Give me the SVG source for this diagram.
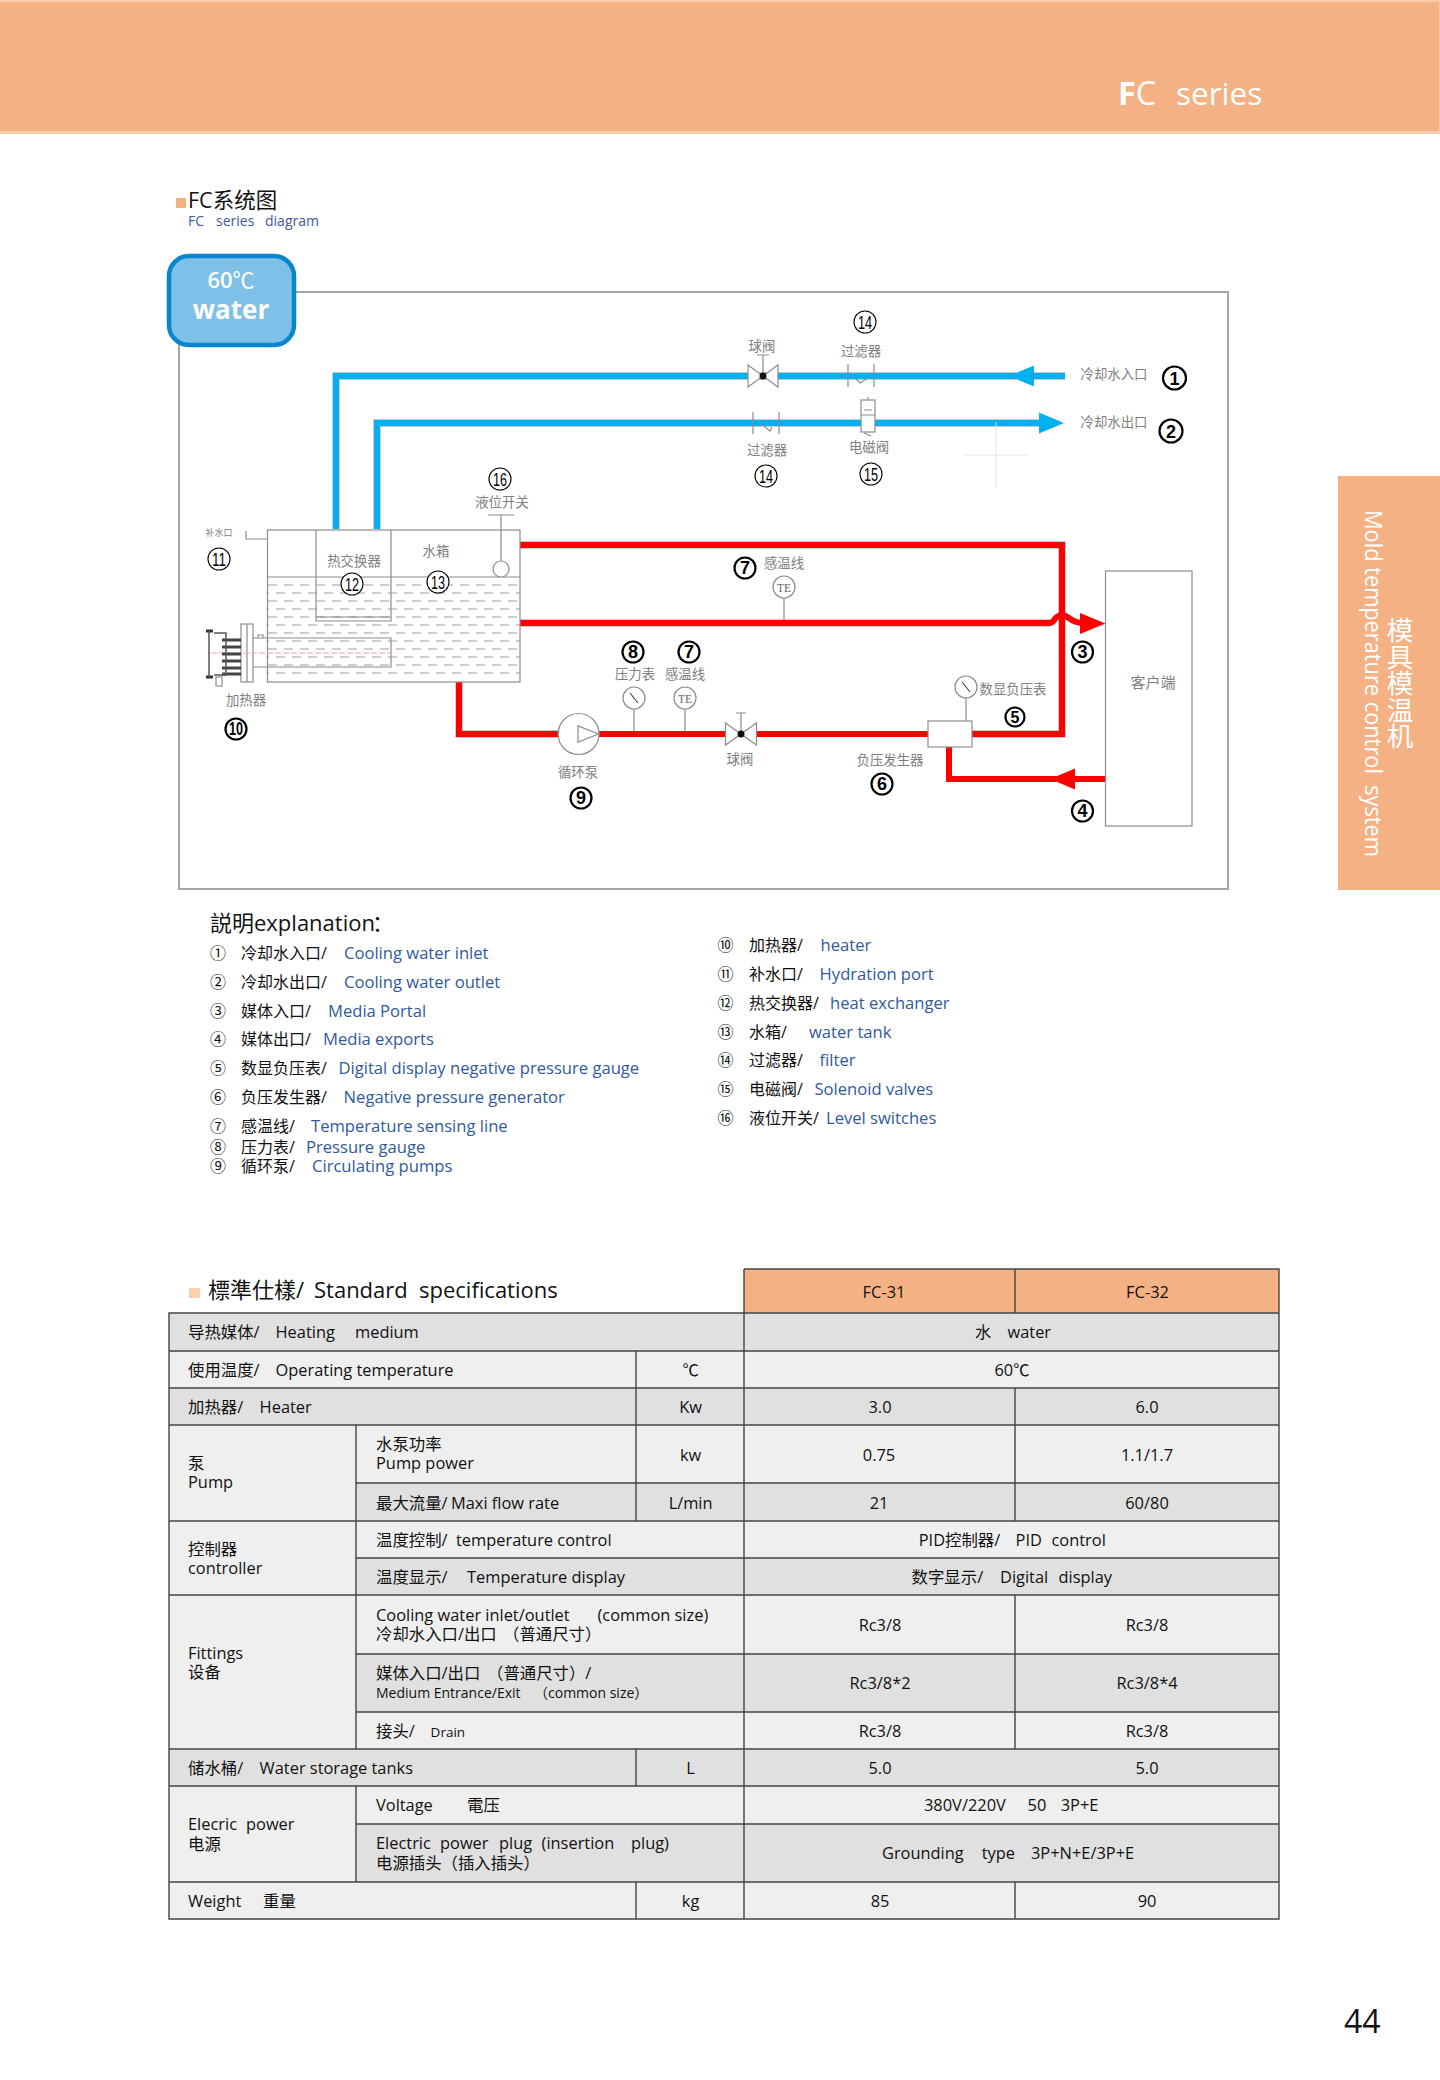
<svg xmlns="http://www.w3.org/2000/svg" width="1440" height="2080" viewBox="0 0 1440 2080">
<style>
text{font-family:"Open Sans","Noto Sans CJK SC",sans-serif;fill:#111;white-space:pre}
.w{fill:#fff}
.l{font-size:13.4px;fill:#808080;text-anchor:middle;font-family:"Noto Sans CJK SC",sans-serif}
.n{font-family:"Liberation Sans",sans-serif;font-size:18px;text-anchor:middle;fill:#000}
.b circle{fill:#fff;stroke:#000;stroke-width:2.2}
.b text{font-weight:bold}
.d circle{fill:#fff;stroke:#000;stroke-width:1.1}
.e{font-size:16px}
.en{fill:#2f5a9c;font-size:16.6px}
.t{font-size:16.4px}
.c{text-anchor:middle}
.gl{fill:none;stroke:#8c8c8c;stroke-width:1.2}
.part{fill:#fff;stroke:#8c8c8c;stroke-width:1.2}
.blue{fill:none;stroke:#00b0f0;stroke-width:6}
.red{fill:none;stroke:#f00;stroke-width:6}
.edge{fill:none;stroke:#808080;stroke-width:7.4;opacity:.55}
.hl{stroke:#444;stroke-width:1.4;fill:none}
.wl{fill:none;stroke:#9c9c9c;stroke-width:1;stroke-dasharray:9 7}
</style>

<g id="header">
<rect x="0" y="0" width="1440" height="134" fill="#fbcbab"/>
<rect x="0" y="2" width="1439" height="129" fill="#f4b183"/>
<text class="w" x="1118" y="105" font-size="32.5"><tspan font-weight="bold">F</tspan>C</text>
<text class="w" x="1176" y="105" font-size="31.5">series</text>
</g>
<g id="side-tab">
<rect x="1338" y="476" width="102" height="414" fill="#f4b183"/>
<text class="w" transform="translate(1365 510) rotate(90)" font-size="24" textLength="347" lengthAdjust="spacingAndGlyphs">Mold temperature control  system</text>
<text class="w" x="1400" y="617" font-size="26.5" style="writing-mode:vertical-rl;font-family:'Noto Sans CJK SC',sans-serif">模具模温机</text>
</g>
<g id="title">
<rect x="176" y="198" width="10" height="10" fill="#f4b183"/>
<text x="188" y="208" font-size="21.5">FC系统图</text>
<text x="188" y="226" font-size="14" style="fill:#3f5a9e"><tspan>FC</tspan><tspan x="216">series</tspan><tspan x="265">diagram</tspan></text>
</g>

<rect id="frame" x="179" y="292" width="1049" height="597" fill="#fff" stroke="#a6a6a6" stroke-width="2"/>
<g id="temp-badge">
<rect x="169" y="256" width="125" height="89" rx="20" fill="#7fc0e8" stroke="#0a85d1" stroke-width="4.5"/>
<text class="w c" x="231" y="288" font-size="22"><tspan font-weight="600">60</tspan>℃</text>
<text class="w c" x="231" y="319" font-size="26" font-weight="bold">water</text>
</g>

<g id="connectors">
<path class="edge" d="M336 529V376H1065"/><path class="blue" d="M336 529V376H1065"/>
<path class="edge" d="M377 529V423H1042"/><path class="blue" d="M377 529V423H1042"/>
<polygon points="1009,376 1034,365.5 1034,386.5" fill="#00b0f0"/>
<polygon points="1064,423 1039,412.5 1039,433.5" fill="#00b0f0"/>
<path class="edge" d="M520 545H1062V734H972"/><path class="red" d="M520 545H1062V734H972"/>
<path class="edge" d="M520 623H1050"/><path class="red" d="M520 623H1050C1054 623 1055 615 1062 615C1069 615 1070 623 1082 623"/>
<polygon points="1105.5,623.5 1080,613 1080,634" fill="#f00"/>
<path class="edge" d="M459 682V734H558"/><path class="red" d="M459 682V734H558"/>
<path class="red" d="M598 734H725"/><path class="red" d="M757 734H928"/>
<path class="red" d="M949 747V779H1105"/>
<polygon points="1050,779 1075,768.5 1075,789.5" fill="#f00"/>
</g>

<g id="ball-valve-1"><path class="part" d="M748 365L778 387V365L748 387Z"/><path class="gl" d="M763 376V355M757 355H769"/><circle cx="763" cy="376" r="3.5" fill="#111"/></g>
<g id="filter-1"><path class="gl" d="M848 364V387M874 364V387M856 379L860 383L868 378" stroke="#777"/></g>
<g id="filter-2"><path class="gl" d="M753 412V434M779 412V434M760 423L770 431L772 427"/></g>
<g id="solenoid-valve"><rect class="part" x="861" y="400" width="14" height="32"/><path class="gl" d="M861 415H875M864 410H872M868 400V397M864 433L871 436"/></g>
<g id="crosshair"><path d="M963 455H1029M996 422V488" stroke="#e6e6e6" fill="none"/></g>

<g id="tank">
<rect class="part" x="267.5" y="530" width="252.5" height="152"/>
<path class="gl" d="M267.5 577H520"/>
<g id="water-level">
<path class="wl" d="M268 585H520M268 601H520M268 617H520M268 633H520M268 649H520M268 665H520"/>
<path class="wl" stroke-dashoffset="8" d="M268 593H520M268 609H520M268 625H520M268 641H520M268 657H520M268 673H520"/>
</g>
<path class="gl" d="M246 531V539H267.5"/>
<path class="gl" d="M316 530V621H391V530M316 617H391"/>
<path class="gl" d="M501 515V561M488 515H514"/><circle class="part" cx="501" cy="569" r="8"/>
</g>
<g id="heater">
<path class="gl" d="M253 638H391V667H253"/>
<path class="gl" d="M258 638V635H263V638"/>
<rect class="part" x="241" y="624" width="12" height="58"/><path class="gl" d="M247 624V682"/>
<path d="M211 653H391" stroke="#f6a0a0" stroke-dasharray="6 2" fill="none"/>
<path d="M222 640H241M222 647H241M222 654H241M222 661H241M222 668H241M222 674H241" stroke="#444" stroke-width="3" fill="none"/>
<path d="M206 631H213M206 677H213" stroke="#333" stroke-width="3" fill="none"/>
<path d="M209 631V677M214 633H226V675H214" stroke="#555" stroke-width="1.5" fill="none"/>
<rect class="part" x="216" y="677" width="6" height="9"/>
</g>
<g id="pump"><circle class="part" cx="578.6" cy="734" r="20.5"/><path class="gl" d="M578 726V742L598.6 734Z"/></g>
<g id="ball-valve-2"><path class="part" d="M725.5 723L756.5 745V723L725.5 745Z"/><path class="gl" d="M741 734V713M736 713H746"/><circle cx="741" cy="734" r="3.5" fill="#111"/></g>
<g id="pressure-gauge"><path class="gl" d="M634 709V731"/><circle class="part" cx="634" cy="698" r="11"/><path d="M630 693L638 703" stroke="#444" stroke-width="1.2"/></g>
<g id="te-2"><path class="gl" d="M685 709V731"/><circle class="part" cx="685" cy="698" r="11"/><text class="c" x="685" y="703" font-size="11.5" style="fill:#666;font-family:'Liberation Serif',serif">TE</text></g>
<g id="te-1"><path class="gl" d="M784 598V620"/><circle class="part" cx="784" cy="587" r="11"/><text class="c" x="784" y="592" font-size="11.5" style="fill:#666;font-family:'Liberation Serif',serif">TE</text></g>
<g id="negative-gauge"><path class="gl" d="M966 698V721"/><circle class="part" cx="966" cy="687" r="11"/><path d="M962 682L970 692" stroke="#444" stroke-width="1.2"/></g>
<g id="generator"><rect class="part" x="928" y="721" width="44" height="26"/></g>
<g id="client"><rect class="part" x="1105.5" y="571" width="86.5" height="255"/><text class="l" x="1153" y="688" style="font-size:15px">客户端</text></g>

<g id="part-labels">
<text class="l" x="762" y="351">球阀</text>
<text class="l" x="861" y="356">过滤器</text>
<text class="l" x="767" y="455">过滤器</text>
<text class="l" x="869" y="452">电磁阀</text>
<text class="l" x="1114" y="379">冷却水入口</text>
<text class="l" x="1114" y="427">冷却水出口</text>
<text class="l" x="219" y="536" style="font-size:9px">补水口</text>
<text class="l" x="354" y="566">热交换器</text>
<text class="l" x="436" y="556">水箱</text>
<text class="l" x="502" y="507">液位开关</text>
<text class="l" x="246" y="705">加热器</text>
<text class="l" x="578" y="777">循环泵</text>
<text class="l" x="740" y="764">球阀</text>
<text class="l" x="635" y="679">压力表</text>
<text class="l" x="685" y="679">感温线</text>
<text class="l" x="784" y="568">感温线</text>
<text class="l" x="1013" y="694">数显负压表</text>
<text class="l" x="890" y="765">负压发生器</text>
</g>

<g id="badge-1" class="b"><circle cx="1174.5" cy="378" r="11.5"/><text class="n" x="1174.5" y="384.5">1</text></g>
<g id="badge-2" class="b"><circle cx="1171" cy="431" r="11.5"/><text class="n" x="1171" y="437.5">2</text></g>
<g id="badge-3" class="b"><circle cx="1082.5" cy="652" r="10.5"/><text class="n" x="1082.5" y="658">3</text></g>
<g id="badge-4" class="b"><circle cx="1082.5" cy="811" r="10.5"/><text class="n" x="1082.5" y="817">4</text></g>
<g id="badge-5" class="b"><circle cx="1015" cy="717" r="9.5"/><text class="n" x="1015" y="723" style="font-size:16px">5</text></g>
<g id="badge-6" class="b"><circle cx="882" cy="784" r="10.5"/><text class="n" x="882" y="790">6</text></g>
<g id="badge-7a" class="b"><circle cx="745" cy="568" r="10.5"/><text class="n" x="745" y="574">7</text></g>
<g id="badge-7b" class="b"><circle cx="689" cy="652" r="10.5"/><text class="n" x="689" y="658">7</text></g>
<g id="badge-8" class="b"><circle cx="633" cy="652" r="10.5"/><text class="n" x="633" y="658">8</text></g>
<g id="badge-9" class="b"><circle cx="581" cy="798" r="10.5"/><text class="n" x="581" y="804">9</text></g>
<g id="badge-10" class="b"><circle cx="236" cy="729" r="10.5"/><text class="n" x="236" y="735" textLength="14" lengthAdjust="spacingAndGlyphs">10</text></g>
<g id="badge-11" class="d"><circle cx="219" cy="559" r="11"/><text class="n" x="219" y="565.5" textLength="14" lengthAdjust="spacingAndGlyphs">11</text></g>
<g id="badge-12" class="d"><circle cx="352" cy="584" r="11"/><text class="n" x="352" y="590.5" textLength="14" lengthAdjust="spacingAndGlyphs">12</text></g>
<g id="badge-13" class="d"><circle cx="438" cy="582" r="11"/><text class="n" x="438" y="588.5" textLength="14" lengthAdjust="spacingAndGlyphs">13</text></g>
<g id="badge-14a" class="d"><circle cx="865" cy="322" r="11"/><text class="n" x="865" y="328.5" textLength="14" lengthAdjust="spacingAndGlyphs">14</text></g>
<g id="badge-14b" class="d"><circle cx="766" cy="476" r="11"/><text class="n" x="766" y="482.5" textLength="14" lengthAdjust="spacingAndGlyphs">14</text></g>
<g id="badge-15" class="d"><circle cx="871" cy="474" r="11"/><text class="n" x="871" y="480.5" textLength="14" lengthAdjust="spacingAndGlyphs">15</text></g>
<g id="badge-16" class="d"><circle cx="500" cy="479" r="11"/><text class="n" x="500" y="485.5" textLength="14" lengthAdjust="spacingAndGlyphs">16</text></g>

<g id="explanation">
<text x="210" y="931" font-size="22"><tspan>説明explanation</tspan><tspan x="372">：</tspan></text>
<text class="e" y="959"><tspan x="210">①</tspan><tspan x="241">冷却水入口/</tspan><tspan class="en" x="344">Cooling water inlet</tspan></text>
<text class="e" y="988"><tspan x="210">②</tspan><tspan x="241">冷却水出口/</tspan><tspan class="en" x="344">Cooling water outlet</tspan></text>
<text class="e" y="1017"><tspan x="210">③</tspan><tspan x="241">媒体入口/</tspan><tspan class="en" x="328">Media Portal</tspan></text>
<text class="e" y="1045"><tspan x="210">④</tspan><tspan x="241">媒体出口/</tspan><tspan class="en" x="323">Media exports</tspan></text>
<text class="e" y="1074"><tspan x="210">⑤</tspan><tspan x="241">数显负压表/</tspan><tspan class="en" x="338.5">Digital display negative pressure gauge</tspan></text>
<text class="e" y="1103"><tspan x="210">⑥</tspan><tspan x="241">负压发生器/</tspan><tspan class="en" x="343.6">Negative pressure generator</tspan></text>
<text class="e" y="1132"><tspan x="210">⑦</tspan><tspan x="241">感温线/</tspan><tspan class="en" x="311">Temperature sensing line</tspan></text>
<text class="e" y="1153"><tspan x="210">⑧</tspan><tspan x="241">压力表/</tspan><tspan class="en" x="306">Pressure gauge</tspan></text>
<text class="e" y="1172"><tspan x="210">⑨</tspan><tspan x="241">循环泵/</tspan><tspan class="en" x="312">Circulating pumps</tspan></text>
<text class="e" y="951"><tspan x="717.5">⑩</tspan><tspan x="749">加热器/</tspan><tspan class="en" x="820.6">heater</tspan></text>
<text class="e" y="980"><tspan x="717.5">⑪</tspan><tspan x="749">补水口/</tspan><tspan class="en" x="819.6">Hydration port</tspan></text>
<text class="e" y="1009"><tspan x="717.5">⑫</tspan><tspan x="749">热交换器/</tspan><tspan class="en" x="830">heat exchanger</tspan></text>
<text class="e" y="1038"><tspan x="717.5">⑬</tspan><tspan x="749">水箱/</tspan><tspan class="en" x="809">water tank</tspan></text>
<text class="e" y="1066"><tspan x="717.5">⑭</tspan><tspan x="749">过滤器/</tspan><tspan class="en" x="819.6">filter</tspan></text>
<text class="e" y="1095"><tspan x="717.5">⑮</tspan><tspan x="749">电磁阀/</tspan><tspan class="en" x="814.5">Solenoid valves</tspan></text>
<text class="e" y="1124"><tspan x="717.5">⑯</tspan><tspan x="749">液位开关/</tspan><tspan class="en" x="826">Level switches</tspan></text>
</g>

<g id="spec-title">
<rect x="189" y="1288" width="11" height="10" fill="#fbcfb0"/>
<text y="1298" font-size="22"><tspan x="208">標準仕樣/</tspan><tspan x="314">Standard</tspan><tspan x="419">specifications</tspan></text>
</g>

<g id="spec-table">
<g id="table-fills">
<rect x="744" y="1269" width="535" height="44" fill="#f4b183"/>
<rect x="169" y="1313" width="1110" height="38" fill="#e0e0e0"/>
<rect x="169" y="1351" width="1110" height="37" fill="#efefef"/>
<rect x="169" y="1388" width="1110" height="37" fill="#e0e0e0"/>
<rect x="169" y="1425" width="1110" height="494" fill="#efefef"/>
<rect x="356" y="1483" width="923" height="38" fill="#e0e0e0"/>
<rect x="356" y="1558" width="923" height="37" fill="#e0e0e0"/>
<rect x="356" y="1654" width="923" height="58" fill="#e0e0e0"/>
<rect x="169" y="1749" width="1110" height="37" fill="#e0e0e0"/>
<rect x="356" y="1824" width="923" height="58" fill="#e0e0e0"/>
</g>
<path id="table-lines" class="hl" d="M744 1269H1279V1919H169V1313H1279
M169 1351H1279M169 1388H1279M169 1425H1279M356 1483H1279M169 1521H1279M356 1558H1279M169 1595H1279M356 1654H1279M356 1712H1279M169 1749H1279M169 1786H1279M356 1824H1279M169 1882H1279
M744 1269V1919M1015 1269V1313M1015 1388V1521M1015 1595V1749M1015 1882V1919
M636 1351V1521M636 1749V1786M636 1882V1919
M356 1425V1749M356 1786V1882"/>
<g id="table-text" transform="translate(0 1)">
<text class="c t" x="884" y="1297">FC-31</text><text class="c t" x="1147.5" y="1297">FC-32</text>
<text class="t" y="1337"><tspan x="188">导热媒体/</tspan><tspan x="275.5">Heating</tspan><tspan x="355">medium</tspan></text>
<text class="t" y="1337"><tspan x="975">水</tspan><tspan x="1007.5">water</tspan></text>
<text class="t" y="1375"><tspan x="188">使用温度/</tspan><tspan x="275.5">Operating temperature</tspan></text>
<text class="c t" x="690.6" y="1375">℃</text><text class="c t" x="1012" y="1375">60℃</text>
<text class="t" y="1412"><tspan x="188">加热器/</tspan><tspan x="259.6">Heater</tspan></text>
<text class="c t" x="690.6" y="1412">Kw</text><text class="c t" x="880" y="1412">3.0</text><text class="c t" x="1147" y="1412">6.0</text>
<text class="t" x="188" y="1468">泵</text><text class="t" x="188" y="1487">Pump</text>
<text class="t" x="376" y="1449">水泵功率</text><text class="t" x="376" y="1468">Pump power</text>
<text class="c t" x="690.6" y="1460">kw</text><text class="c t" x="879" y="1460">0.75</text><text class="c t" x="1147" y="1460">1.1/1.7</text>
<text class="t" y="1508"><tspan x="376">最大流量/</tspan><tspan x="451">Maxi flow rate</tspan></text>
<text class="c t" x="690.6" y="1508">L/min</text><text class="c t" x="879" y="1508">21</text><text class="c t" x="1147" y="1508">60/80</text>
<text class="t" x="188" y="1554">控制器</text><text class="t" x="188" y="1573">controller</text>
<text class="t" y="1545"><tspan x="376">温度控制/</tspan><tspan x="456">temperature control</tspan></text>
<text class="t" y="1545"><tspan x="918.7">PID控制器/</tspan><tspan x="1015.6">PID</tspan><tspan x="1051.5">control</tspan></text>
<text class="t" y="1582"><tspan x="376">温度显示/</tspan><tspan x="467">Temperature display</tspan></text>
<text class="t" y="1582"><tspan x="911.6">数字显示/</tspan><tspan x="1000">Digital</tspan><tspan x="1058.5">display</tspan></text>
<text class="t" x="188" y="1658">Fittings</text><text class="t" x="188" y="1677">设备</text>
<text class="t" y="1620"><tspan x="376">Cooling water inlet/outlet</tspan><tspan x="597.5">(common size)</tspan></text>
<text class="t" y="1639"><tspan x="376">冷却水入口/出口</tspan><tspan x="503">（普通尺寸）</tspan></text>
<text class="c t" x="880" y="1630">Rc3/8</text><text class="c t" x="1147" y="1630">Rc3/8</text>
<text class="t" y="1678"><tspan x="376">媒体入口/出口</tspan><tspan x="487">（普通尺寸）/</tspan></text>
<text y="1697" font-size="14"><tspan x="376">Medium Entrance/Exit</tspan><tspan x="534">（common size）</tspan></text>
<text class="c t" x="880" y="1688">Rc3/8*2</text><text class="c t" x="1147" y="1688">Rc3/8*4</text>
<text y="1736"><tspan class="t" x="376">接头/</tspan><tspan x="430.6" font-size="13.5">Drain</tspan></text>
<text class="c t" x="880" y="1736">Rc3/8</text><text class="c t" x="1147" y="1736">Rc3/8</text>
<text class="t" y="1773"><tspan x="188">储水桶/</tspan><tspan x="259.6">Water storage tanks</tspan></text>
<text class="c t" x="690.6" y="1773">L</text><text class="c t" x="880" y="1773">5.0</text><text class="c t" x="1147" y="1773">5.0</text>
<text class="t" y="1829"><tspan x="188">Elecric</tspan><tspan x="246">power</tspan></text><text class="t" x="188" y="1849">电源</text>
<text class="t" y="1810"><tspan x="376">Voltage</tspan><tspan x="467">電压</tspan></text>
<text class="t" y="1810"><tspan x="924">380V/220V</tspan><tspan x="1027.6">50</tspan><tspan x="1060.7">3P+E</tspan></text>
<text class="t" y="1848"><tspan x="376">Electric</tspan><tspan x="440">power</tspan><tspan x="499">plug</tspan><tspan x="541.6">(insertion</tspan><tspan x="631">plug)</tspan></text>
<text class="t" x="376" y="1868">电源插头（插入插头）</text>
<text class="t" y="1858"><tspan x="882">Grounding</tspan><tspan x="981.7">type</tspan><tspan x="1031">3P+N+E/3P+E</tspan></text>
<text class="t" y="1906"><tspan x="188">Weight</tspan><tspan x="263">重量</tspan></text>
<text class="c t" x="690.6" y="1906">kg</text><text class="c t" x="880" y="1906">85</text><text class="c t" x="1147" y="1906">90</text>
</g>
</g>
<text id="page-number" x="1344" y="2033" font-size="32">44</text>
</svg>
